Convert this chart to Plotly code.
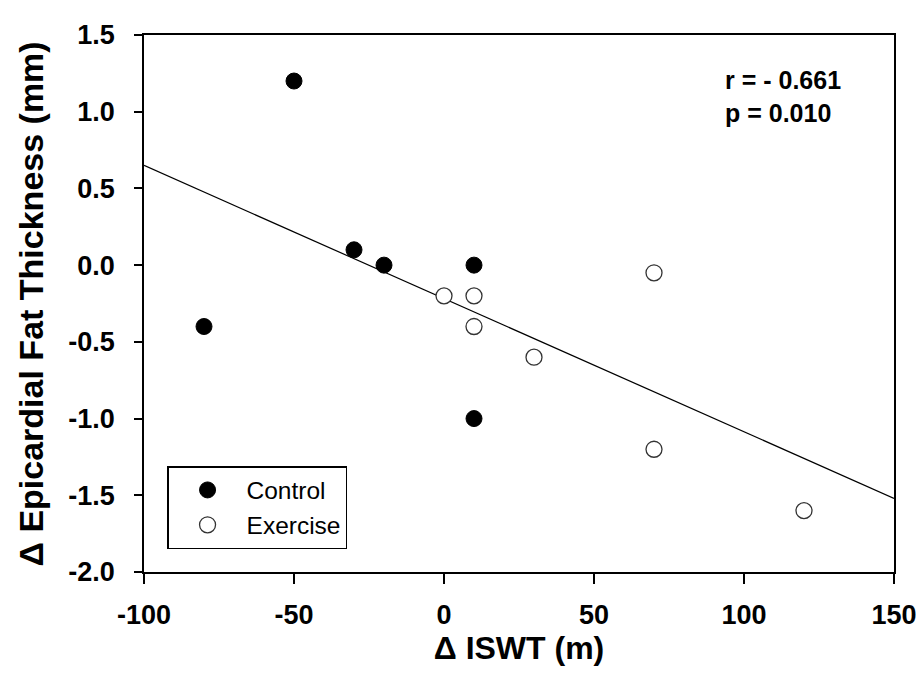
import plotly.graph_objects as go

control_x = [-80, -50, -30, -20, 10, 10]
control_y = [-0.4, 1.2, 0.1, 0.0, 0.0, -1.0]
exercise_x = [0, 10, 10, 30, 70, 70, 120]
exercise_y = [-0.2, -0.2, -0.4, -0.6, -0.05, -1.2, -1.6]
fit_slope = -0.00868
fit_intercept = -0.218
fit_x = [-100, 150]
fit_y = [fit_intercept + fit_slope * v for v in fit_x]
x_ticks = [-100, -50, 0, 50, 100, 150]
x_ticktext = ["-100", "-50", "0", "50", "100", "150"]
y_ticks = [-2.0, -1.5, -1.0, -0.5, 0.0, 0.5, 1.0, 1.5]
y_ticktext = ["-2.0", "-1.5", "-1.0", "-0.5", "0.0", "0.5", "1.0", "1.5"]

FONT = "Liberation Sans, Arial, sans-serif"

fig = go.Figure()
fig.add_trace(go.Scatter(x=fit_x, y=fit_y, mode="lines",
                         line=dict(color="black", width=1.2), showlegend=False, hoverinfo="skip"))
fig.add_trace(go.Scatter(x=control_x, y=control_y, mode="markers", name="Control",
                         marker=dict(size=16, color="black", line=dict(color="black", width=1))))
fig.add_trace(go.Scatter(x=exercise_x, y=exercise_y, mode="markers", name="Exercise",
                         marker=dict(size=16, color="white", line=dict(color="#333333", width=1.3))))

fig.update_layout(
    width=924, height=696,
    margin=dict(l=136, r=38, t=25, b=132),
    plot_bgcolor="white", paper_bgcolor="white",
    font=dict(family=FONT, color="black"),
    legend=dict(x=0.031, y=0.197, xanchor="left", yanchor="top",
                bordercolor="black", borderwidth=1.3, bgcolor="white",
                font=dict(size=24.5, family=FONT), itemwidth=68),
    annotations=[
        dict(x=0.772, y=0.946, xref="paper", yref="paper", xanchor="left", yanchor="top",
             text="<b>r = - 0.661</b><br><b>p = 0.010</b>", align="left", showarrow=False,
             font=dict(size=25, family=FONT)),
        dict(x=-0.1507, y=0.5, xref="paper", yref="paper", xanchor="center", yanchor="middle",
             text="<b>Δ Epicardial Fat Thickness (mm)</b>", textangle=-90, showarrow=False,
             font=dict(size=34, family=FONT)),
    ],
)
fig.update_xaxes(range=[-100, 150], tickvals=x_ticks, ticktext=x_ticktext,
                 ticks="outside", ticklen=10, tickwidth=1.5, tickcolor="black",
                 showline=True, linecolor="black", linewidth=1.5, mirror=True,
                 showgrid=False, zeroline=False, ticklabelstandoff=8,
                 tickfont=dict(size=27, family=FONT, weight="bold"),
                 title=dict(text="<b>Δ ISWT (m)</b>", font=dict(size=32, family=FONT), standoff=2))
fig.update_yaxes(range=[-2.0, 1.5], tickvals=y_ticks, ticktext=y_ticktext,
                 ticks="outside", ticklen=8, tickwidth=1.5, tickcolor="black",
                 showline=True, linecolor="black", linewidth=1.5, mirror=True,
                 showgrid=False, zeroline=False, ticklabelstandoff=14,
                 tickfont=dict(size=27, family=FONT, weight="bold"))

fig.write_html("out.html")
